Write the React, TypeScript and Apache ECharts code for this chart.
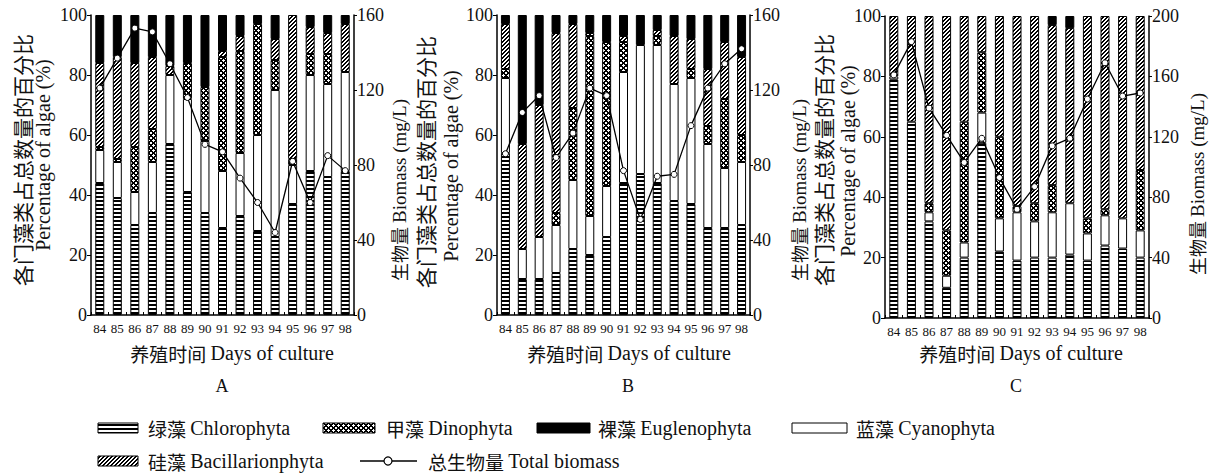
import React, { useEffect, useRef } from "react";
import * as echarts from "echarts";

// ---------- data ----------
const days = ["84", "85", "86", "87", "88", "89", "90", "91", "92", "93", "94", "95", "96", "97", "98"];

// Panel A (percent of each group, stacked bottom -> top)
const chloroA = [44, 39, 30, 34, 57, 41, 34, 29, 33, 28, 26, 37, 48, 46, 48];
const cyanoA = [11, 12, 11, 17, 23, 31, 24, 19, 21, 32, 49, 13, 32, 31, 33];
const dinoA = [1, 1, 15, 11, 0, 12, 18, 38, 34, 37, 10, 2, 7, 10, 0];
const bacilA = [28, 34, 28, 24, 3, 0, 0, 2, 5, 0, 7, 48, 9, 7, 16];
const euglA = [16, 14, 16, 14, 17, 16, 24, 12, 7, 3, 8, 0, 4, 6, 3];
const biomassA = [121, 137, 153, 151, 134, 116, 91, 87, 73, 60, 44, 82, 60, 85, 77];

// Panel B
const chloroB = [54, 12, 12, 14, 22, 20, 26, 44, 47, 44, 38, 37, 29, 29, 30];
const cyanoB = [25, 10, 14, 16, 23, 13, 17, 37, 43, 46, 39, 42, 28, 20, 21];
const dinoB = [3, 0, 0, 4, 24, 60, 48, 10, 0, 3, 0, 3, 6, 23, 9];
const bacilB = [15, 35, 44, 60, 28, 1, 0, 2, 0, 2, 16, 10, 19, 19, 26];
const euglB = [3, 43, 30, 6, 3, 6, 9, 7, 10, 5, 7, 8, 18, 9, 14];
const biomassB = [86, 108, 117, 84, 97, 121, 117, 77, 51, 74, 75, 101, 121, 134, 142];

// Panel C
const chloroC = [79, 65, 32, 10, 20, 58, 22, 19, 20, 20, 21, 19, 24, 23, 20];
const cyanoC = [1, 0, 3, 4, 5, 10, 11, 16, 12, 15, 17, 9, 10, 10, 9];
const dinoC = [0, 0, 3, 15, 40, 20, 27, 2, 6, 9, 0, 5, 2, 0, 20];
const bacilC = [20, 35, 62, 71, 35, 12, 40, 63, 62, 53, 58, 67, 64, 67, 51];
const euglC = [0, 0, 0, 0, 0, 0, 0, 0, 0, 3, 4, 0, 0, 0, 0];
const biomassC = [161, 183, 139, 121, 103, 119, 93, 72, 87, 114, 119, 145, 169, 147, 149];

const rightMax = [160, 160, 200];

const groupNames = ["绿藻 Chlorophyta", "蓝藻 Cyanophyta", "甲藻 Dinophyta", "硅藻 Bacillarionphyta", "裸藻 Euglenophyta"];
const lineName = "总生物量 Total biomass";
const yNameCN = "各门藻类占总数量的百分比";
const yNameEN = "Percentage of algae (%)";
const rightName = "生物量 Biomass (mg/L)";
const xName = "养殖时间 Days of culture";
const panelLetters = ["A", "B", "C"];

const SERIF = '"Liberation Serif", "Times New Roman", serif';
const CJK = '"Noto Sans CJK SC", sans-serif';
const INK = "#111";

function makePattern(kind: string) {
  const c = document.createElement("canvas");
  const n = kind === "x" ? 5 : 4;
  c.width = n;
  c.height = n;
  const ctx = c.getContext("2d")!;
  ctx.fillStyle = "#fff";
  ctx.fillRect(0, 0, n, n);
  ctx.fillStyle = "#000";
  for (let y = 0; y < n; y++) {
    for (let x = 0; x < n; x++) {
      let on = false;
      if (kind === "h") on = y < 2;
      else if (kind === "x") on = (x + y) % n <= 1 || (x - y + n) % n <= 1;
      else if (kind === "d") on = (x + y) % n === 3 || (x + y) % n === 0;
      if (on) ctx.fillRect(x, y, 1, 1);
    }
  }
  return { image: c.toDataURL(), repeat: "repeat", imageWidth: n, imageHeight: n };
}

// split a mixed string into CJK / latin runs as rich text
function richText(s: string) {
  const parts: string[] = [];
  let cur = "";
  let curCJK: boolean | null = null;
  for (const ch of s) {
    const isC = /[\u3400-\u9fff]/.test(ch);
    if (curCJK === null || isC === curCJK || ch === " ") {
      cur += ch;
      if (curCJK === null && ch !== " ") curCJK = isC;
    } else {
      parts.push(`{${curCJK ? "c" : "e"}|${cur}}`);
      cur = ch;
      curCJK = isC;
    }
  }
  if (cur) parts.push(`{${curCJK ? "c" : "e"}|${cur}}`);
  return parts.join("");
}

export default function App() {
  const ref = useRef<HTMLDivElement>(null);
  useEffect(() => {
    document.body.style.margin = "0";
    const chart = echarts.init(ref.current!, null, { renderer: "svg" });

    const fills = [makePattern("h"), "#fff", makePattern("x"), makePattern("d"), "#000"];
    const panels = [
      { groups: [chloroA, cyanoA, dinoA, bacilA, euglA], bio: biomassA },
      { groups: [chloroB, cyanoB, dinoB, bacilB, euglB], bio: biomassB },
      { groups: [chloroC, cyanoC, dinoC, bacilC, euglC], bio: biomassC },
    ];
    const grids = [
      { left: 91, top: 15, width: 263, height: 300 },
      { left: 497, top: 15, width: 253, height: 300 },
      { left: 885, top: 16, width: 264, height: 302 },
    ];

    const xAxis: any[] = [];
    const yAxis: any[] = [];
    const series: any[] = [];
    const axisLine = { show: true, lineStyle: { color: "#000", width: 1.5 } };

    panels.forEach((p, i) => {
      xAxis.push({
        type: "category",
        gridIndex: i,
        data: days,
        boundaryGap: true,
        axisLine,
        axisTick: { show: true, inside: true, length: 3, lineStyle: { color: "#000" } },
        axisLabel: { interval: 0, fontSize: 13, color: INK, fontFamily: SERIF, margin: 7 },
        splitLine: { show: false },
      });
      yAxis.push({
        type: "value",
        gridIndex: i,
        position: "left",
        min: 0,
        max: 100,
        interval: 20,
        axisLine,
        axisTick: { show: true, length: 4, lineStyle: { color: "#000" } },
        axisLabel: { fontSize: 18, color: INK, fontFamily: SERIF, margin: 4 },
        splitLine: { show: false },
      });
      yAxis.push({
        type: "value",
        gridIndex: i,
        position: "right",
        min: 0,
        max: rightMax[i],
        interval: 40,
        axisLine,
        axisTick: { show: true, length: 3, lineStyle: { color: "#000" } },
        axisLabel: { fontSize: 18, color: INK, fontFamily: SERIF, margin: 3 },
        splitLine: { show: false },
      });
      p.groups.forEach((vals, g) => {
        series.push({
          name: groupNames[g],
          type: "bar",
          xAxisIndex: i,
          yAxisIndex: i * 2,
          stack: "s" + i,
          barWidth: 9,
          data: vals.map((v) => (v === 0 ? null : v)),
          itemStyle: { color: fills[g] as any, borderColor: "#000", borderWidth: 1 },
          emphasis: { disabled: true },
        });
      });
      series.push({
        name: lineName,
        type: "line",
        xAxisIndex: i,
        yAxisIndex: i * 2 + 1,
        data: p.bio,
        symbol: "circle",
        symbolSize: 6,
        z: 10,
        lineStyle: { color: "#000", width: 1.3 },
        itemStyle: { color: "#fff", borderColor: "#000", borderWidth: 1 },
        emphasis: { disabled: true },
      });
    });

    const txt = (text: string, x: number, y: number, size: number, rot = 0, align = "center") => ({
      type: "text",
      x,
      y,
      rotation: rot,
      style: {
        text: richText(text),
        fill: INK,
        align,
        verticalAlign: "middle",
        rich: {
          c: { fontFamily: CJK, fontSize: size - 1, fill: INK },
          e: { fontFamily: SERIF, fontSize: size, fill: INK },
        },
      },
    });
    const R = Math.PI / 2;

    const graphic: any[] = [
      // left / right axis titles
      txt(yNameCN, 22, 160, 22, R),
      txt(yNameEN, 43, 155, 20, R),
      txt(rightName, 399, 190, 19, R),
      txt(yNameCN, 425, 162, 22, R),
      txt(yNameEN, 451, 166, 20, R),
      txt(rightName, 799, 190, 19, R),
      txt(yNameCN, 823, 160, 22, R),
      txt(yNameEN, 848, 161, 20, R),
      txt(rightName, 1197, 184, 19, R),
      // x titles and panel letters
      txt(xName, 232, 353, 20),
      txt(xName, 629, 353, 20),
      txt(xName, 1021, 353, 20),
      txt(panelLetters[0], 222, 386, 18),
      txt(panelLetters[1], 628, 386, 18),
      txt(panelLetters[2], 1016, 386, 18),
    ];

    // legend
    const legendItems = [
      { g: 0, x: 98, w: 40, y: 428, tx: 148 },
      { g: 2, x: 323, w: 52, y: 428, tx: 386 },
      { g: 4, x: 537, w: 53, y: 428, tx: 598 },
      { g: 1, x: 792, w: 55, y: 428, tx: 856 },
      { g: 3, x: 98, w: 40, y: 461, tx: 148 },
    ];
    legendItems.forEach((it) => {
      graphic.push({
        type: "rect",
        shape: { x: it.x, y: it.y - 5, width: it.w, height: 10 },
        style: { fill: fills[it.g] as any, stroke: "#000", lineWidth: 1 },
      });
      graphic.push(txt(groupNames[it.g], it.tx, it.y, 20, 0, "left"));
    });
    graphic.push({
      type: "line",
      shape: { x1: 360, y1: 461, x2: 417, y2: 461 },
      style: { stroke: "#000", lineWidth: 1.5 },
    });
    graphic.push({
      type: "circle",
      shape: { cx: 388, cy: 461, r: 4 },
      style: { fill: "#fff", stroke: "#000", lineWidth: 1.2 },
    });
    graphic.push(txt(lineName, 428, 461, 20, 0, "left"));

    chart.setOption({
      animation: false,
      backgroundColor: "#fff",
      grid: grids.map((g) => ({ ...g, containLabel: false })),
      xAxis,
      yAxis,
      series,
      graphic,
    });
    return () => chart.dispose();
  }, []);
  return <div ref={ref} style={{ width: 1219, height: 475 }} />;
}
